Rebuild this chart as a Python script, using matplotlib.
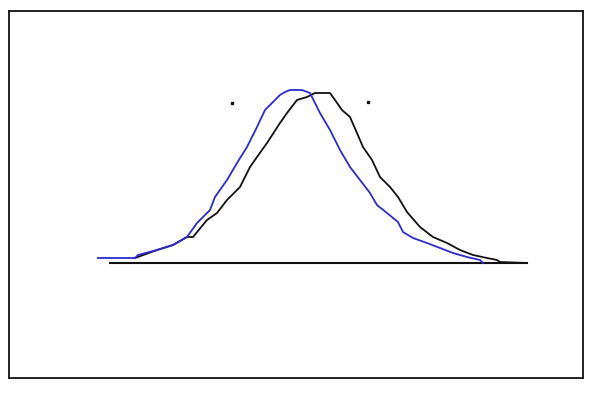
import matplotlib
matplotlib.use("Agg")
import matplotlib.pyplot as plt
import numpy as np

# curve heights above the baseline
blue_x = [98, 135, 138, 157, 173, 187, 197, 210, 215, 227, 237, 247, 257, 265, 280,
          285, 290, 302, 310, 320, 330, 340, 350, 360, 370, 377, 387, 398, 403, 413,
          427, 440, 453, 467, 480, 483]
blue_y = [5, 5, 8, 13, 18, 26, 40, 53, 66, 83, 100, 116, 136, 153, 168,
          171, 173, 173, 170, 150, 133, 113, 96, 83, 70, 58, 50, 41, 31, 25,
          20, 15, 10, 6, 3, 0]

black_x = [135, 157, 173, 187, 193, 207, 217, 227, 240, 250, 257, 267, 280, 287,
           297, 307, 315, 330, 335, 342, 350, 357, 363, 372, 380, 390, 398, 407,
           420, 433, 447, 460, 473, 487, 497, 500, 527]
black_y = [5, 13, 18, 26, 26, 43, 50, 63, 76, 96, 106, 120, 140, 150,
           163, 166, 170, 170, 163, 153, 146, 130, 116, 103, 86, 76, 66, 51,
           36, 26, 20, 13, 8, 5, 3, 1, 0]

base_x = [110, 527]
base_y = [0, 0]

dots_x = [232, 368]
dots_y = [160, 161]

fig = plt.figure(figsize=(6.05, 3.95), dpi=100)
ax = fig.add_axes([9 / 605, 17 / 395, 574 / 605, 367 / 395])
ax.set_xlim(9, 583)
ax.set_ylim(-115, 252)
ax.set_xticks([])
ax.set_yticks([])
for s in ax.spines.values():
    s.set_linewidth(1.3)
    s.set_color("#111111")

ax.plot(base_x, base_y, color="#111111", lw=1.5)
ax.plot(black_x, black_y, color="#111111", lw=1.3)
ax.plot(blue_x, blue_y, color="#2a2ad6", lw=1.3)
ax.plot(dots_x, dots_y, "s", color="#111111", ms=1.8)

fig.savefig("out.png", dpi=100)
